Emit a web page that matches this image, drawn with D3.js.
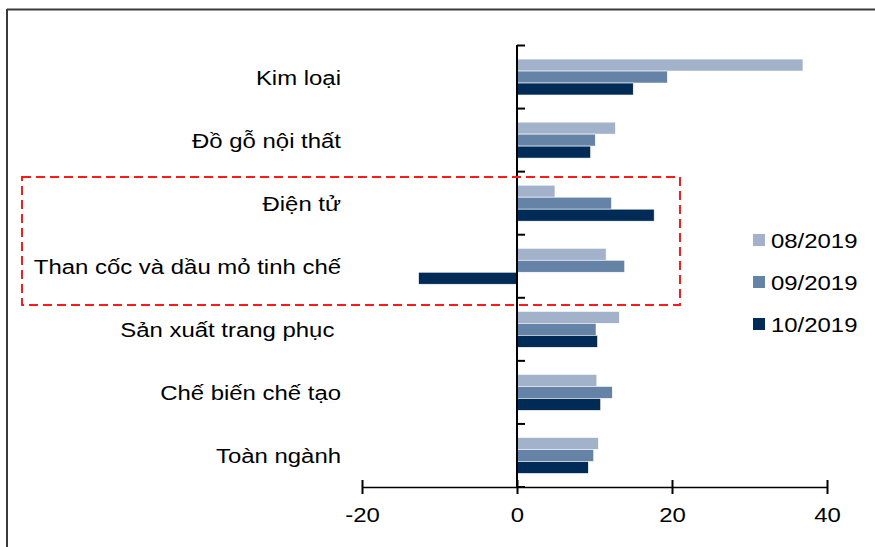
<!DOCTYPE html>
<html>
<head>
<meta charset="utf-8">
<script src="https://cdn.jsdelivr.net/npm/d3@7"></script>
<style>
  body { margin: 0; background: #fff; }
  svg { display: block; font-family: "Liberation Sans", Arial, sans-serif; }
</style>
</head>
<body>
<script>
// categories (top to bottom) and series values
const categories = ["Kim loại", "Đồ gỗ nội thất", "Điện tử", "Than cốc và dầu mỏ tinh chế",
    "Sản xuất trang phục\u00a0", "Chế biến chế tạo", "Toàn ngành"];
const seriesNames = ["08/2019", "09/2019", "10/2019"];
const values0819 = [36.9, 12.7, 4.9, 11.5, 13.2, 10.3, 10.5];
const values0919 = [19.4, 10.1, 12.2, 13.9, 10.2, 12.3, 9.9];
const values1019 = [15.0, 9.5, 17.7, -12.7, 10.4, 10.8, 9.2];
const xTicks = [-20, 0, 20, 40];
const colors = ["#a3b2cb", "#6583a7", "#002b56"];

let width = 875;
let height = 547;
const stretch = 1.14; // the original text is a bit wider than Liberation Sans

const svg = d3.select("body").append("svg")
    .attr("width", width)
    .attr("height", height);

// frame (top and left edges only, picture is cropped)
svg.append("line").attr("x1", 7).attr("x2", width).attr("y1", 9.5).attr("y2", 9.5)
    .attr("stroke", "#3a3a3a").attr("stroke-width", 2);
svg.append("line").attr("x1", 7).attr("x2", 7).attr("y1", 9).attr("y2", height)
    .attr("stroke", "#3a3a3a").attr("stroke-width", 2);

// scales
const xScale = d3.scaleLinear().domain([-20, 40]).range([362, 827]);
const yScale = d3.scaleBand().domain(categories).range([45.5, 487])
    .paddingInner(0.43).paddingOuter(0.215);
const ySub = d3.scaleBand().domain(seriesNames).range([0, yScale.bandwidth()]);

// build rows for drawing
const allValues = [values0819, values0919, values1019];
const rows = [];
categories.forEach((c, i) => {
    seriesNames.forEach((s, j) => rows.push({ cat: c, series: s, idx: j, value: allValues[j][i] }));
});

// bars
svg.append("g").selectAll("rect")
    .data(rows)
    .enter()
    .append("rect")
    .attr("x", d => xScale(Math.min(0, d.value)))
    .attr("y", d => yScale(d.cat) + ySub(d.series))
    .attr("width", d => Math.abs(xScale(d.value) - xScale(0)))
    .attr("height", ySub.bandwidth())
    .attr("fill", d => colors[d.idx])
    .attr("stroke", "#ffffff")
    .attr("stroke-width", 0.6);

// vertical axis at zero with category ticks to the right
const catEdges = categories.map(c => yScale(c) - yScale.step() * yScale.paddingInner() / 2);
catEdges.push(487);
svg.append("line")
    .attr("x1", xScale(0)).attr("x2", xScale(0))
    .attr("y1", 45).attr("y2", 487)
    .attr("stroke", "#000").attr("stroke-width", 2);
svg.append("g").selectAll("line")
    .data(catEdges)
    .enter()
    .append("line")
    .attr("x1", xScale(0)).attr("x2", xScale(0) + 8)
    .attr("y1", d => d).attr("y2", d => d)
    .attr("stroke", "#000").attr("stroke-width", 2);

// category labels
svg.append("g").selectAll("text")
    .data(categories)
    .enter()
    .append("text")
    .attr("transform", d => `translate(341,${yScale(d) + yScale.bandwidth() / 2}) scale(${stretch},1)`)
    .attr("dy", "0.36em")
    .attr("text-anchor", "end")
    .style("font-size", "21px")
    .attr("fill", "#000")
    .text(d => d);

// horizontal axis
const xAxis = svg.append("g")
    .attr("transform", "translate(0,487)")
    .call(d3.axisBottom(xScale).tickValues(xTicks).tickSize(0).tickPadding(20)
        .tickFormat(d => String(d)));
xAxis.select(".domain").attr("stroke", "#000").attr("stroke-width", 1.5);
xAxis.selectAll(".tick line").remove();
xAxis.selectAll(".tick").append("line")
    .attr("y1", -7).attr("y2", 7)
    .attr("stroke", "#000").attr("stroke-width", 2);
xAxis.selectAll(".tick text")
    .attr("transform", `scale(${stretch},1)`)
    .style("font-size", "21px")
    .style("font-family", "'Liberation Sans', Arial, sans-serif")
    .attr("fill", "#000");

// highlight box around the two rows
svg.append("rect")
    .attr("x", 22).attr("y", 177)
    .attr("width", 658).attr("height", 128)
    .attr("fill", "none")
    .attr("stroke", "#ff1a1a")
    .attr("stroke-width", 2)
    .attr("stroke-dasharray", "9,5");

// legend
const legendY = [240, 282, 324];
const legend = svg.append("g").selectAll("g")
    .data(seriesNames)
    .enter()
    .append("g")
    .attr("transform", (d, i) => `translate(753,${legendY[i]})`);
legend.append("rect")
    .attr("x", 0).attr("y", -6)
    .attr("width", 12).attr("height", 12)
    .attr("fill", (d, i) => colors[i]);
legend.append("text")
    .attr("transform", `translate(18,0) scale(${stretch},1)`)
    .attr("dy", "0.36em")
    .style("font-size", "21px")
    .attr("fill", "#000")
    .text(d => d);
</script>
</body>
</html>
